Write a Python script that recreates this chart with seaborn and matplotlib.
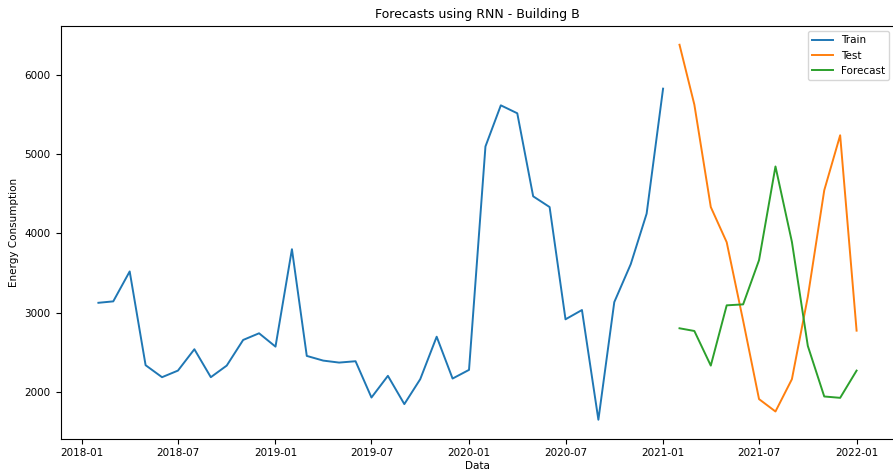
import matplotlib
matplotlib.use("Agg")
import matplotlib.pyplot as plt
import pandas as pd
import seaborn as sns

# Monthly energy consumption for Building B
train_start = "2018-02-01"
train_values = [3125, 3143, 3520, 2339, 2188, 2271, 2540, 2188, 2334, 2657, 2741, 2573,
                3800, 2456, 2397, 2372, 2389, 1932, 2205, 1849, 2163, 2698, 2171, 2280,
                5094, 5612, 5512, 4466, 4331, 2917, 3034, 1652, 3134, 3611, 4248, 5822]

test_start = "2021-02-01"
test_values = [6375, 5621, 4331, 3888, 2900, 1912, 1756, 2163, 3200, 4542, 5235, 2774]
forecast_values = [2804, 2770, 2334, 3093, 3105, 3662, 4842, 3892, 2582, 1945, 1928, 2271]

train_dates = pd.date_range(train_start, periods=len(train_values), freq="MS")
test_dates = pd.date_range(test_start, periods=len(test_values), freq="MS")

df = pd.concat([
    pd.DataFrame({"Data": train_dates, "Energy Consumption": train_values, "Series": "Train"}),
    pd.DataFrame({"Data": test_dates, "Energy Consumption": test_values, "Series": "Test"}),
    pd.DataFrame({"Data": test_dates, "Energy Consumption": forecast_values, "Series": "Forecast"}),
], ignore_index=True)

plt.rcParams.update({
    "font.family": ["DejaVu Sans"],
    "font.size": 7.5,
    "axes.linewidth": 0.8,
    "xtick.major.width": 0.8,
    "ytick.major.width": 0.8,
    "xtick.major.size": 3.5,
    "ytick.major.size": 3.5,
})

fig = plt.figure(figsize=(8.93, 4.75), dpi=100)
# the plot area runs slightly past the right edge of the canvas
ax = fig.add_axes([60.5 / 893, 1 - 438.5 / 475, 834 / 893, 412.5 / 475])

sns.lineplot(data=df, x="Data", y="Energy Consumption", hue="Series",
             palette=["#1f77b4", "#ff7f0e", "#2ca02c"], linewidth=1.4, ax=ax)

ax.set_title("Forecasts using RNN - Building B", fontsize=9)
ax.set_xlabel("Data", fontsize=7.5, labelpad=2)
ax.set_ylabel("Energy Consumption", fontsize=7.5)
ax.tick_params(labelsize=7.5)
ax.legend(title=None, loc="upper right", fontsize=7.5)

fig.savefig("out.png", dpi=100)
